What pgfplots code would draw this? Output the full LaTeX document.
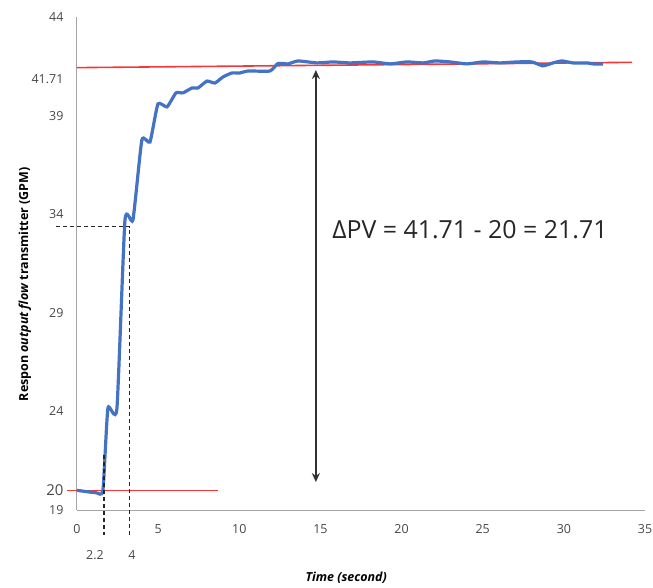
\documentclass[border=0pt]{standalone}
\usepackage{fontspec}
\setmainfont{Open Sans}
\usepackage{pgfplots}
\pgfplotsset{compat=1.18}
\usetikzlibrary{arrows.meta}

\definecolor{curveblue}{RGB}{68,114,196}
\definecolor{refred}{RGB}{245,55,55}
\definecolor{axisgray}{RGB}{165,165,165}
\definecolor{labelgray}{RGB}{70,70,70}
\definecolor{arrowgray}{RGB}{50,50,50}

\begin{document}
\begin{tikzpicture}
\begin{axis}[
  width=568bp, height=493bp, scale only axis,
  xmin=0, xmax=35, ymin=19, ymax=44,
  axis x line=bottom, axis y line=left,
  axis line style={-, draw=axisgray, line width=1.1bp},
  major tick length=0pt,
  xtick={0,5,...,35},
  ytick={19,24,29,34,39,44},
  extra y ticks={20,40.85},
  extra y tick labels={{\fontsize{15}{15}\selectfont 20},41.71},
  /pgf/number format/assume math mode=true,
  tick label style={font=\fontsize{12.5}{13}\selectfont, text=labelgray},
  xticklabel style={yshift=-11bp},
  yticklabel style={xshift=-10bp},
  xlabel={\textbf{\textit{Time (second)}}},
  xlabel style={at={(axis description cs:0.474,-0.138)}, anchor=center, font=\fontsize{12.5}{14}\selectfont},
  ylabel={\textbf{Respon \textit{output flow} transmitter (GPM)}},
  ylabel style={at={(axis description cs:-0.0915,0.458)}, anchor=center, font=\fontsize{12.5}{14}\selectfont},
  clip=false,
]

% reference lines
\addplot[refred, line width=1.6bp] coordinates {(-0.6,20) (8.7,20)};
\addplot[refred, line width=1.6bp] coordinates {(0,41.43) (34.2,41.70)};

% response curve
\addplot[curveblue, line width=3.2bp, smooth, tension=0.3] coordinates {
(0,20) (1.17,19.88) (1.6,20.0) (1.91,24.17) (2.46,24.12) (2.96,33.71)
(3.45,33.71) (4.0,37.76) (4.5,37.66) (4.99,39.59) (5.55,39.44) (6.1,40.15)
(6.53,40.15) (7.09,40.40) (7.46,40.40) (8.01,40.75) (8.5,40.65) (9.0,40.96)
(9.55,41.16) (10.04,41.16) (10.54,41.26) (11.89,41.26) (12.38,41.64) (13.0,41.62)
(13.62,41.77) (14.79,41.67) (15.77,41.72) (16.82,41.67) (18.24,41.72) (19.29,41.62)
(20.33,41.72) (21.32,41.67) (22.06,41.77) (22.98,41.72) (24.03,41.62) (25.02,41.72)
(26.06,41.67) (27.11,41.72) (28.03,41.72) (28.71,41.52) (29.33,41.67) (29.88,41.77)
(30.56,41.67) (31.42,41.67) (31.79,41.62) (32.41,41.62)
};

% dashed guide lines
\addplot[black!85, dash pattern=on 4bp off 3bp, line width=1.4bp] coordinates {(-1.3,33.37) (3.22,33.37) (3.22,17.73)};
\addplot[black!85, dash pattern=on 4bp off 3bp, line width=1.4bp] coordinates {(1.66,21.8) (1.66,17.73)};

% delta arrow
\addplot[arrowgray, line width=1.6bp, {Stealth[length=9bp,width=8bp]}-{Stealth[length=9bp,width=8bp]}]
  coordinates {(14.72,20.42) (14.72,41.31)};

\node[font=\fontsize{25}{28}\selectfont, text=black!85] at (axis cs:24.21,33.22) {ΔPV = 41.71 - 20 = 21.71};
\node[font=\fontsize{12.5}{13}\selectfont, text=labelgray] at (axis cs:1.11,16.72) {2.2};
\node[font=\fontsize{12.5}{13}\selectfont, text=labelgray] at (axis cs:3.39,16.72) {4};

\coordinate (bl) at (axis cs:-4.74,15.09);
\coordinate (tr) at (axis cs:35.49,44.86);
\end{axis}
\pgfresetboundingbox
\path[use as bounding box] (bl) rectangle (tr);
\end{tikzpicture}
\end{document}
